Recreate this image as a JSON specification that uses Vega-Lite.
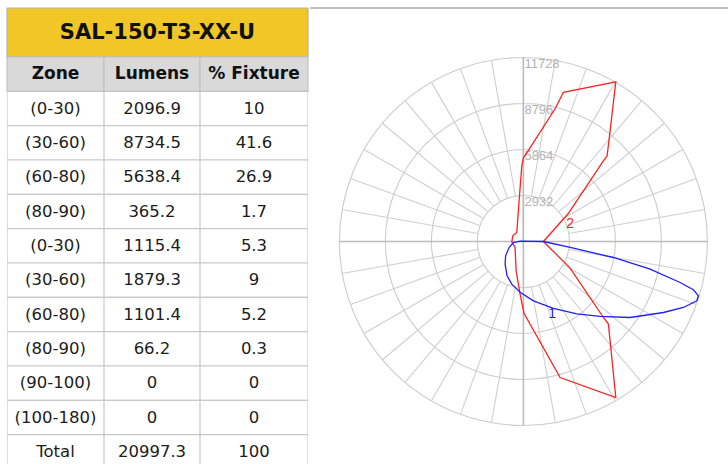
{
  "$schema": "https://vega.github.io/schema/vega-lite/v6.json",
  "padding": {"left": 6, "top": 7, "right": 0, "bottom": 0},
  "background": "white",
  "spacing": 0,
  "config": {"view": {"stroke": null}, "concat": {"spacing": 0}},
  "datasets": {
    "tbl": [
      {"r": 1, "zone": "(0-30)", "lumens": 2096.9, "pct": 10},
      {"r": 2, "zone": "(30-60)", "lumens": 8734.5, "pct": 41.6},
      {"r": 3, "zone": "(60-80)", "lumens": 5638.4, "pct": 26.9},
      {"r": 4, "zone": "(80-90)", "lumens": 365.2, "pct": 1.7},
      {"r": 5, "zone": "(0-30)", "lumens": 1115.4, "pct": 5.3},
      {"r": 6, "zone": "(30-60)", "lumens": 1879.3, "pct": 9},
      {"r": 7, "zone": "(60-80)", "lumens": 1101.4, "pct": 5.2},
      {"r": 8, "zone": "(80-90)", "lumens": 66.2, "pct": 0.3},
      {"r": 9, "zone": "(90-100)", "lumens": 0, "pct": 0},
      {"r": 10, "zone": "(100-180)", "lumens": 0, "pct": 0},
      {"r": 11, "zone": "Total", "lumens": 20997.3, "pct": 100}
    ],
    "curves": [
      {"curve": "2", "i": 0, "h": 1275, "v": 0},
      {"curve": "2", "i": 1, "h": 2849, "v": 1766},
      {"curve": "2", "i": 2, "h": 5099, "v": 5144},
      {"curve": "2", "i": 3, "h": 5335, "v": 5462},
      {"curve": "2", "i": 4, "h": 5482, "v": 6674},
      {"curve": "2", "i": 5, "h": 5890, "v": 10179},
      {"curve": "2", "i": 6, "h": 2550, "v": 9510},
      {"curve": "2", "i": 7, "h": 2021, "v": 8458},
      {"curve": "2", "i": 8, "h": 300, "v": 5781},
      {"curve": "2", "i": 9, "h": 0, "v": 5335},
      {"curve": "2", "i": 10, "h": -102, "v": 4825},
      {"curve": "2", "i": 11, "h": -274, "v": 2594},
      {"curve": "2", "i": 12, "h": -421, "v": 574},
      {"curve": "2", "i": 13, "h": -676, "v": 363},
      {"curve": "2", "i": 14, "h": -739, "v": -19},
      {"curve": "2", "i": 15, "h": -529, "v": -382},
      {"curve": "2", "i": 16, "h": -465, "v": -1868},
      {"curve": "2", "i": 17, "h": -210, "v": -3353},
      {"curve": "2", "i": 18, "h": -38, "v": -4207},
      {"curve": "2", "i": 19, "h": 45, "v": -4589},
      {"curve": "2", "i": 20, "h": 2339, "v": -8669},
      {"curve": "2", "i": 21, "h": 5890, "v": -9943},
      {"curve": "2", "i": 22, "h": 5418, "v": -5265},
      {"curve": "2", "i": 23, "h": 5099, "v": -4844},
      {"curve": "2", "i": 24, "h": 2977, "v": -1695},
      {"curve": "2", "i": 25, "h": 1275, "v": 0},
      {"curve": "1", "i": 0, "h": 1275, "v": 0},
      {"curve": "1", "i": 1, "h": -210, "v": 25},
      {"curve": "1", "i": 2, "h": -637, "v": -64},
      {"curve": "1", "i": 3, "h": -911, "v": -382},
      {"curve": "1", "i": 4, "h": -1135, "v": -911},
      {"curve": "1", "i": 5, "h": -1166, "v": -1441},
      {"curve": "1", "i": 6, "h": -1039, "v": -2186},
      {"curve": "1", "i": 7, "h": -739, "v": -2715},
      {"curve": "1", "i": 8, "h": -210, "v": -3238},
      {"curve": "1", "i": 9, "h": 637, "v": -3780},
      {"curve": "1", "i": 10, "h": 1912, "v": -4258},
      {"curve": "1", "i": 11, "h": 3404, "v": -4608},
      {"curve": "1", "i": 12, "h": 4889, "v": -4768},
      {"curve": "1", "i": 13, "h": 6801, "v": -4844},
      {"curve": "1", "i": 14, "h": 8924, "v": -4526},
      {"curve": "1", "i": 15, "h": 10198, "v": -4207},
      {"curve": "1", "i": 16, "h": 11053, "v": -3780},
      {"curve": "1", "i": 17, "h": 11155, "v": -3461},
      {"curve": "1", "i": 18, "h": 10836, "v": -3079},
      {"curve": "1", "i": 19, "h": 9988, "v": -2613},
      {"curve": "1", "i": 20, "h": 8076, "v": -1759},
      {"curve": "1", "i": 21, "h": 5737, "v": -1020},
      {"curve": "1", "i": 22, "h": 2977, "v": -382},
      {"curve": "1", "i": 23, "h": 1275, "v": 0}
    ]
  },
  "hconcat": [
    {
      "spacing": 0,
      "bounds": "flush",
      "vconcat": [
        {
          "width": 301,
          "height": 49,
          "data": {"values": [{"t": "SAL-150-T3-XX-U"}]},
          "layer": [
            {
              "mark": {"type": "rect", "fill": "#f1c727", "stroke": "#b4b4b4", "strokeWidth": 1.2},
              "encoding": {
                "x": {"datum": "c", "type": "nominal", "axis": null, "scale": {"paddingInner": 0, "paddingOuter": 0}},
                "y": {"datum": "r", "type": "nominal", "axis": null, "scale": {"paddingInner": 0, "paddingOuter": 0}}
              }
            },
            {
              "mark": {"type": "text", "font": "DejaVu Sans", "fontWeight": "bold", "fontSize": 21, "fill": "#111111"},
              "encoding": {
                "x": {"datum": "c", "type": "nominal", "axis": null, "scale": {"paddingInner": 0, "paddingOuter": 0}},
                "y": {"datum": "r", "type": "nominal", "axis": null, "scale": {"paddingInner": 0, "paddingOuter": 0}},
                "text": {"field": "t", "type": "nominal"}
              }
            }
          ]
        },
        {
          "spacing": 0,
          "bounds": "flush",
          "hconcat": [
            {
              "width": 97,
              "height": 408,
              "layer": [
                {
                  "data": {"name": "tbl"},
                  "mark": {"type": "rect", "fill": "#ffffff", "stroke": "#c9c9c9", "strokeWidth": 1.2, "clip": true},
                  "encoding": {
                    "x": {"datum": "c", "type": "nominal", "axis": null, "scale": {"paddingInner": 0, "paddingOuter": 0}},
                    "y": {"field": "r", "type": "ordinal", "axis": null, "scale": {"domain": [0,1,2,3,4,5,6,7,8,9,10,11], "range": [0, 412], "paddingInner": 0, "paddingOuter": 0}}
                  }
                },
                {
                  "data": {"name": "tbl"},
                  "mark": {"type": "text", "font": "DejaVu Sans", "fontSize": 16.5, "fill": "#1c1c1c", "clip": true},
                  "encoding": {
                    "x": {"datum": "c", "type": "nominal", "axis": null, "scale": {"paddingInner": 0, "paddingOuter": 0}},
                    "y": {"field": "r", "type": "ordinal", "axis": null, "scale": {"domain": [0,1,2,3,4,5,6,7,8,9,10,11], "range": [0, 412], "paddingInner": 0, "paddingOuter": 0}},
                    "text": {"field": "zone", "type": "nominal"}
                  }
                },
                {
                  "data": {"values": [{"hd": "Zone"}]},
                  "mark": {"type": "rect", "fill": "#d9d9d9", "stroke": "#c2c2c2", "strokeWidth": 1.2},
                  "encoding": {
                    "x": {"datum": "c", "type": "nominal", "axis": null, "scale": {"paddingInner": 0, "paddingOuter": 0}},
                    "y": {"datum": 0, "type": "ordinal", "axis": null, "scale": {"domain": [0,1,2,3,4,5,6,7,8,9,10,11], "range": [0, 412], "paddingInner": 0, "paddingOuter": 0}}
                  }
                },
                {
                  "data": {"values": [{"hd": "Zone"}]},
                  "mark": {"type": "text", "font": "DejaVu Sans", "fontWeight": "bold", "fontSize": 17, "fill": "#111111"},
                  "encoding": {
                    "x": {"datum": "c", "type": "nominal", "axis": null, "scale": {"paddingInner": 0, "paddingOuter": 0}},
                    "y": {"datum": 0, "type": "ordinal", "axis": null, "scale": {"domain": [0,1,2,3,4,5,6,7,8,9,10,11], "range": [0, 412], "paddingInner": 0, "paddingOuter": 0}},
                    "text": {"field": "hd", "type": "nominal"}
                  }
                }
              ]
            },
            {
              "width": 96,
              "height": 408,
              "layer": [
                {
                  "data": {"name": "tbl"},
                  "mark": {"type": "rect", "fill": "#ffffff", "stroke": "#c9c9c9", "strokeWidth": 1.2, "clip": true},
                  "encoding": {
                    "x": {"datum": "c", "type": "nominal", "axis": null, "scale": {"paddingInner": 0, "paddingOuter": 0}},
                    "y": {"field": "r", "type": "ordinal", "axis": null, "scale": {"domain": [0,1,2,3,4,5,6,7,8,9,10,11], "range": [0, 412], "paddingInner": 0, "paddingOuter": 0}}
                  }
                },
                {
                  "data": {"name": "tbl"},
                  "mark": {"type": "text", "font": "DejaVu Sans", "fontSize": 16.5, "fill": "#1c1c1c", "clip": true},
                  "encoding": {
                    "x": {"datum": "c", "type": "nominal", "axis": null, "scale": {"paddingInner": 0, "paddingOuter": 0}},
                    "y": {"field": "r", "type": "ordinal", "axis": null, "scale": {"domain": [0,1,2,3,4,5,6,7,8,9,10,11], "range": [0, 412], "paddingInner": 0, "paddingOuter": 0}},
                    "text": {"field": "lumens", "type": "nominal"}
                  }
                },
                {
                  "data": {"values": [{"hd": "Lumens"}]},
                  "mark": {"type": "rect", "fill": "#d9d9d9", "stroke": "#c2c2c2", "strokeWidth": 1.2},
                  "encoding": {
                    "x": {"datum": "c", "type": "nominal", "axis": null, "scale": {"paddingInner": 0, "paddingOuter": 0}},
                    "y": {"datum": 0, "type": "ordinal", "axis": null, "scale": {"domain": [0,1,2,3,4,5,6,7,8,9,10,11], "range": [0, 412], "paddingInner": 0, "paddingOuter": 0}}
                  }
                },
                {
                  "data": {"values": [{"hd": "Lumens"}]},
                  "mark": {"type": "text", "font": "DejaVu Sans", "fontWeight": "bold", "fontSize": 17, "fill": "#111111"},
                  "encoding": {
                    "x": {"datum": "c", "type": "nominal", "axis": null, "scale": {"paddingInner": 0, "paddingOuter": 0}},
                    "y": {"datum": 0, "type": "ordinal", "axis": null, "scale": {"domain": [0,1,2,3,4,5,6,7,8,9,10,11], "range": [0, 412], "paddingInner": 0, "paddingOuter": 0}},
                    "text": {"field": "hd", "type": "nominal"}
                  }
                }
              ]
            },
            {
              "width": 108,
              "height": 408,
              "layer": [
                {
                  "data": {"name": "tbl"},
                  "mark": {"type": "rect", "fill": "#ffffff", "stroke": "#c9c9c9", "strokeWidth": 1.2, "clip": true},
                  "encoding": {
                    "x": {"datum": "c", "type": "nominal", "axis": null, "scale": {"paddingInner": 0, "paddingOuter": 0}},
                    "y": {"field": "r", "type": "ordinal", "axis": null, "scale": {"domain": [0,1,2,3,4,5,6,7,8,9,10,11], "range": [0, 412], "paddingInner": 0, "paddingOuter": 0}}
                  }
                },
                {
                  "data": {"name": "tbl"},
                  "mark": {"type": "text", "font": "DejaVu Sans", "fontSize": 16.5, "fill": "#1c1c1c", "clip": true},
                  "encoding": {
                    "x": {"datum": "c", "type": "nominal", "axis": null, "scale": {"paddingInner": 0, "paddingOuter": 0}},
                    "y": {"field": "r", "type": "ordinal", "axis": null, "scale": {"domain": [0,1,2,3,4,5,6,7,8,9,10,11], "range": [0, 412], "paddingInner": 0, "paddingOuter": 0}},
                    "text": {"field": "pct", "type": "nominal"}
                  }
                },
                {
                  "data": {"values": [{"hd": "% Fixture"}]},
                  "mark": {"type": "rect", "fill": "#d9d9d9", "stroke": "#c2c2c2", "strokeWidth": 1.2},
                  "encoding": {
                    "x": {"datum": "c", "type": "nominal", "axis": null, "scale": {"paddingInner": 0, "paddingOuter": 0}},
                    "y": {"datum": 0, "type": "ordinal", "axis": null, "scale": {"domain": [0,1,2,3,4,5,6,7,8,9,10,11], "range": [0, 412], "paddingInner": 0, "paddingOuter": 0}}
                  }
                },
                {
                  "data": {"values": [{"hd": "% Fixture"}]},
                  "mark": {"type": "text", "font": "DejaVu Sans", "fontWeight": "bold", "fontSize": 17, "fill": "#111111"},
                  "encoding": {
                    "x": {"datum": "c", "type": "nominal", "axis": null, "scale": {"paddingInner": 0, "paddingOuter": 0}},
                    "y": {"datum": 0, "type": "ordinal", "axis": null, "scale": {"domain": [0,1,2,3,4,5,6,7,8,9,10,11], "range": [0, 412], "paddingInner": 0, "paddingOuter": 0}},
                    "text": {"field": "hd", "type": "nominal"}
                  }
                }
              ]
            }
          ]
        }
      ]
    },
    {
      "width": 421,
      "height": 457,
      "layer": [
        {
          "data": {"values": [{"cd": 2932}, {"cd": 5864}, {"cd": 8796}, {"cd": 11728}]},
          "mark": {"type": "arc", "filled": false, "stroke": "#cccccc", "strokeWidth": 1.1},
          "encoding": {
            "x": {"datum": 0, "type": "quantitative", "axis": null, "scale": {"domain": [-13602, 13232], "nice": false, "zero": false}},
            "y": {"datum": 0, "type": "quantitative", "axis": null, "scale": {"domain": [-14246, 14883], "nice": false, "zero": false}},
            "theta": {"datum": 0, "type": "quantitative", "stack": null, "scale": {"domain": [0, 360], "range": [0, 6.283185], "zero": true, "nice": false}},
            "theta2": {"datum": 360},
            "radius": {"field": "cd", "type": "quantitative", "stack": null, "legend": null, "scale": {"type": "linear", "domain": [0, 11728], "range": [0, 184], "zero": true, "nice": false}}
          }
        },
        {
          "data": {"values": [{"a": 10}, {"a": 20}, {"a": 30}, {"a": 40}, {"a": 50}, {"a": 60}, {"a": 70}, {"a": 80}, {"a": 100}, {"a": 110}, {"a": 120}, {"a": 130}, {"a": 140}, {"a": 150}, {"a": 160}, {"a": 170}, {"a": 190}, {"a": 200}, {"a": 210}, {"a": 220}, {"a": 230}, {"a": 240}, {"a": 250}, {"a": 260}, {"a": 280}, {"a": 290}, {"a": 300}, {"a": 310}, {"a": 320}, {"a": 330}, {"a": 340}, {"a": 350}]},
          "mark": {"type": "arc", "filled": false, "stroke": "#cfcfcf", "strokeWidth": 1.1},
          "encoding": {
            "x": {"datum": 0, "type": "quantitative", "axis": null, "scale": {"domain": [-13602, 13232], "nice": false, "zero": false}},
            "y": {"datum": 0, "type": "quantitative", "axis": null, "scale": {"domain": [-14246, 14883], "nice": false, "zero": false}},
            "theta": {"field": "a", "type": "quantitative", "stack": null, "scale": {"domain": [0, 360], "range": [0, 6.283185], "zero": true, "nice": false}},
            "theta2": {"field": "a"},
            "radius": {"datum": 11728, "type": "quantitative", "stack": null, "scale": {"type": "linear", "domain": [0, 11728], "range": [0, 184], "zero": true, "nice": false}},
            "radius2": {"datum": 2932}
          }
        },
        {
          "data": {"values": [{"h": -11728, "h2": 11728, "v": 0, "v2": 0}, {"h": 0, "h2": 0, "v": -11728, "v2": 11728}]},
          "mark": {"type": "rule", "stroke": "#bcbcbc", "strokeWidth": 1.6},
          "encoding": {
            "x": {"field": "h", "type": "quantitative", "axis": null, "scale": {"domain": [-13602, 13232], "nice": false, "zero": false}},
            "x2": {"field": "h2"},
            "y": {"field": "v", "type": "quantitative", "axis": null, "scale": {"domain": [-14246, 14883], "nice": false, "zero": false}},
            "y2": {"field": "v2"}
          }
        },
        {
          "data": {"values": [{}]},
          "mark": {"type": "rule", "stroke": "#a9a9a9", "strokeWidth": 1.6},
          "encoding": {
            "y": {"datum": 14883, "type": "quantitative", "axis": null, "scale": {"domain": [-14246, 14883], "nice": false, "zero": false}}
          }
        },
        {
          "data": {"values": [{"cd": 2932, "t": "2932"}, {"cd": 5864, "t": "5864"}, {"cd": 8796, "t": "8796"}, {"cd": 11728, "t": "11728"}]},
          "mark": {"type": "text", "align": "left", "baseline": "top", "dx": 1, "dy": 1, "font": "Liberation Sans", "fontSize": 13, "fill": "#b3b3b3"},
          "encoding": {
            "x": {"datum": 0, "type": "quantitative", "axis": null, "scale": {"domain": [-13602, 13232], "nice": false, "zero": false}},
            "y": {"field": "cd", "type": "quantitative", "axis": null, "scale": {"domain": [-14246, 14883], "nice": false, "zero": false}},
            "text": {"field": "t", "type": "nominal"}
          }
        },
        {
          "data": {"name": "curves"},
          "mark": {"type": "line", "strokeWidth": 1.3, "interpolate": "linear"},
          "encoding": {
            "x": {"field": "h", "type": "quantitative", "axis": null, "scale": {"domain": [-13602, 13232], "nice": false, "zero": false}},
            "y": {"field": "v", "type": "quantitative", "axis": null, "scale": {"domain": [-14246, 14883], "nice": false, "zero": false}},
            "order": {"field": "i", "type": "quantitative"},
            "color": {"field": "curve", "type": "nominal", "legend": null, "scale": {"domain": ["1", "2"], "range": ["#2020ff", "#ff2020"]}}
          }
        },
        {
          "data": {"values": [{"curve": "2", "h": 2977, "v": 1128}, {"curve": "1", "h": 1829, "v": -4640}]},
          "mark": {"type": "text", "align": "center", "baseline": "middle", "font": "Liberation Sans", "fontSize": 14},
          "encoding": {
            "x": {"field": "h", "type": "quantitative", "axis": null, "scale": {"domain": [-13602, 13232], "nice": false, "zero": false}},
            "y": {"field": "v", "type": "quantitative", "axis": null, "scale": {"domain": [-14246, 14883], "nice": false, "zero": false}},
            "text": {"field": "curve", "type": "nominal"},
            "color": {"field": "curve", "type": "nominal", "legend": null, "scale": {"domain": ["1", "2"], "range": ["#2020ff", "#ff2020"]}}
          }
        }
      ]
    }
  ]
}
